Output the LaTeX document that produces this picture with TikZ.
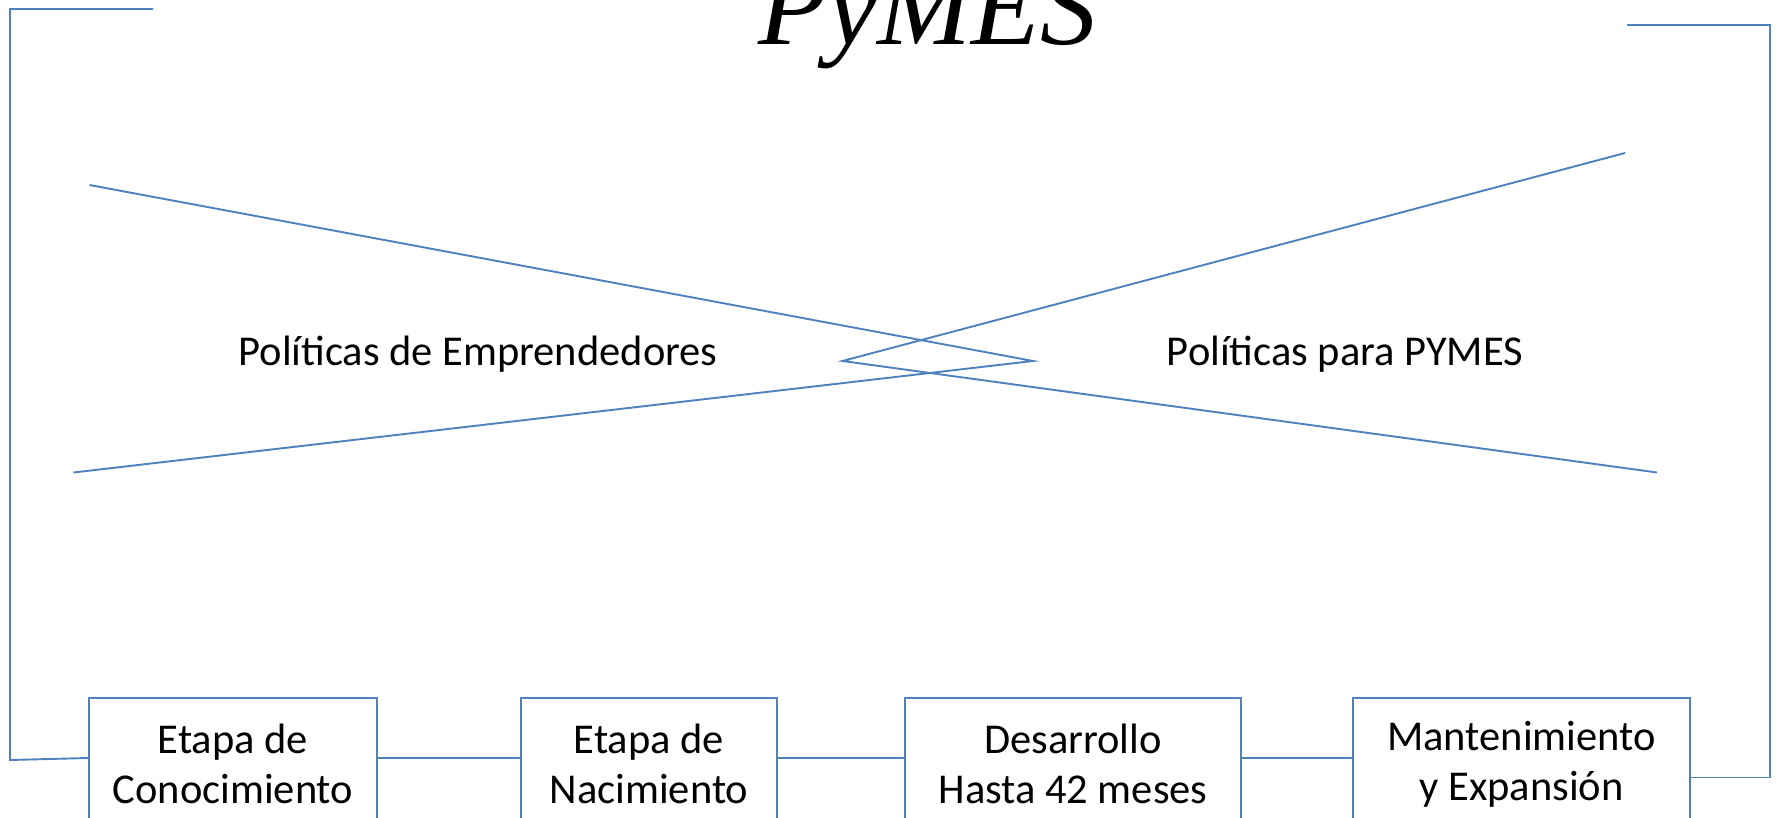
\documentclass[tikz,border=0pt]{standalone}
\usepackage{fontspec}
\setmainfont{Carlito}
\newfontfamily\titlefont{Liberation Serif}
\definecolor{lineblue}{HTML}{4F81BD}
\tikzset{
  conn/.style={draw=lineblue, line width=1.9pt},
  stage/.style={draw=lineblue, line width=1.9pt, anchor=north, align=center,
    minimum height=132pt, inner sep=0pt, font=\fontsize{42.5}{50}\selectfont},
  label/.style={font=\fontsize{42.5}{50}\selectfont, inner sep=0pt},
}
\begin{document}
\begin{tikzpicture}[x=1pt,y=-1pt]
\useasboundingbox (0,0) rectangle (1777,818);
\clip (0,0) rectangle (1777,818);
\fill[white] (0,0) rectangle (1777,818);
% title
\node[font=\titlefont\itshape\fontsize{113}{113}\selectfont, anchor=base, inner sep=0pt] (title) at (928,45) {PyMES};
% stage boxes
\node[stage, minimum width=288pt] (b1) at (233,697) {Etapa de\\Conocimiento};
\node[stage, minimum width=256pt] (b2) at (649,697) {Etapa de\\Nacimiento};
\node[stage, minimum width=335.5pt] (b3) at (1073,697) {Desarrollo\\Hasta 42 meses};
\node[stage, minimum width=337pt] (b4) at (1521.5,697) {Mantenimiento\\y Expansión};
\coordinate (lv) at (0,758);
\coordinate (rv) at (0,777.5);
\draw[conn] (b1.east |- lv) -- (b2.west |- lv);
\draw[conn] (b2.east |- lv) -- (b3.west |- lv);
\draw[conn] (b3.east |- lv) -- (b4.west |- lv);
% left bracket
\coordinate (lt) at (153,9);
\coordinate (ltc) at (10,9);
\coordinate (lbc) at (10,760);
\draw[conn] (lt) -- (ltc) -- (lbc) -- (b1.west |- lv);
% right bracket
\coordinate (rt) at (1627,25);
\coordinate (rtc) at (1770,25);
\coordinate (rbc) at (1770,777.5);
\draw[conn] (b4.east |- rv) -- (rbc) -- (rtc) -- (rt);
% crossing chevrons
\coordinate (a1) at (89.5,185);
\coordinate (a2) at (1033,361);
\coordinate (c1) at (73.5,472.5);
\coordinate (a3) at (1657,472.5);
\coordinate (c2) at (842.5,361);
\coordinate (c3) at (1625,153);
\draw[conn] (a1) -- (a2) -- (c1);
\draw[conn] (c3) -- (c2) -- (a3);
% labels
\node[label] (lpe) at (478,354) {Políticas de Emprendedores};
\node[label] (lpp) at (1345,354) {Políticas para PYMES};
\end{tikzpicture}
\end{document}
